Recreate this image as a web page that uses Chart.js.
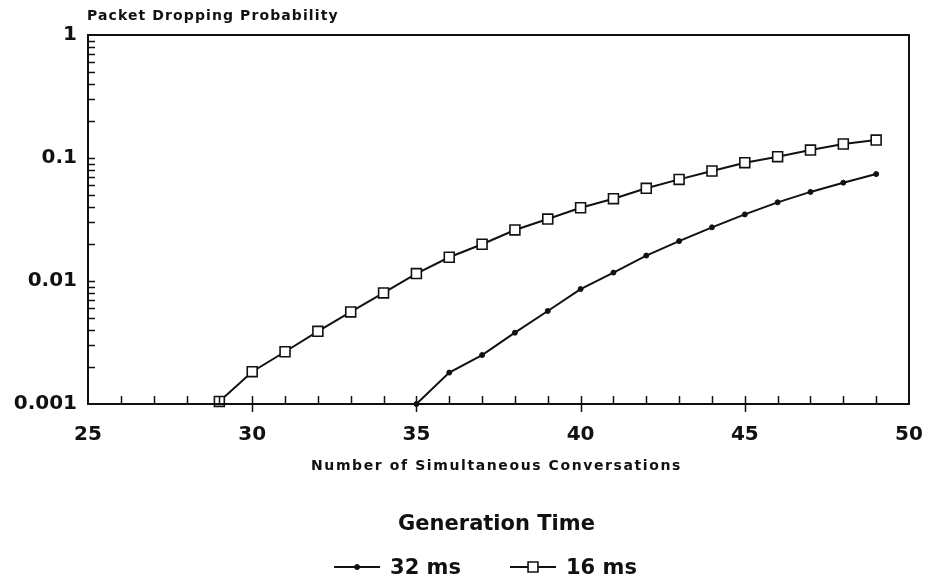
<!DOCTYPE html>
<html lang="en">

<head>
  <meta charset="utf-8" />
  <meta name="viewport" content="width=device-width, initial-scale=1.0">
  <title>Packet Dropping Probability</title>
  <script src="https://cdn.jsdelivr.net/npm/chart.js@4.4.1/dist/chart.umd.min.js"></script>
  <style>
    body { margin: 0; background: #fff; }
    canvas { display: block; }
  </style>
</head>

<body>
  <canvas id="chart" width="927" height="586"></canvas>
  <script>
    // number of simultaneous conversations for each curve
    const conv32 = [35, 36, 37, 38, 39, 40, 41, 42, 43, 44, 45, 46, 47, 48, 49];
    const conv16 = [29, 30, 31, 32, 33, 34, 35, 36, 37, 38, 39, 40, 41, 42, 43, 44, 45, 46, 47, 48, 49];

    // packet dropping probability
    const drop32 = [0.001, 0.0018, 0.0025, 0.0038, 0.0057, 0.0086, 0.0117, 0.0161, 0.0211,
      0.0273, 0.0348, 0.0436, 0.053, 0.063, 0.074];
    const drop16 = [0.00105, 0.00183, 0.00266, 0.0039, 0.0056, 0.008, 0.0115, 0.0156, 0.0199,
      0.026, 0.0319, 0.0394, 0.0467, 0.0567, 0.067, 0.0784, 0.0916, 0.1025, 0.116, 0.13, 0.14];

    const seriesLabels = ['32 ms', '16 ms'];
    const xTicks = [25, 30, 35, 40, 45, 50];
    const yTicks = [0.001, 0.01, 0.1, 1];

    const yTitle = 'Packet Dropping Probability';
    const xTitle = 'Number of Simultaneous Conversations';
    const legendTitle = 'Generation Time';

    const ink = '#111';
    const FONT = '"DejaVu Sans", sans-serif';

    function toPoints(xs, ys) {
      return xs.map((x, i) => ({ x: x, y: ys[i] }));
    }

    // frame, inside tick marks and axis titles
    const framePlugin = {
      id: 'frame',
      afterDatasetsDraw(chart) {
        const ctx = chart.ctx;
        const a = chart.chartArea;
        const xs = chart.scales.x;
        const ys = chart.scales.y;
        ctx.save();
        ctx.strokeStyle = ink;
        ctx.lineWidth = 2;
        ctx.strokeRect(a.left, a.top, a.right - a.left, a.bottom - a.top);

        ctx.lineWidth = 1.5;
        ctx.beginPath();
        for (let v = xs.min + 1; v < xs.max; v++) {
          const px = Math.round(xs.getPixelForValue(v)) + 0.5;
          ctx.moveTo(px, a.bottom - 8);
          ctx.lineTo(px, v % 5 === 0 ? a.bottom + 8 : a.bottom);
        }
        for (let d = ys.min; d < ys.max * 0.999; d *= 10) {
          for (let m = 1; m <= 9; m++) {
            if (m === 1 && d === ys.min) continue;
            const py = Math.round(ys.getPixelForValue(d * m)) + 0.5;
            ctx.moveTo(a.left, py);
            ctx.lineTo(a.left + 7, py);
          }
        }
        ctx.stroke();

        ctx.fillStyle = ink;
        ctx.font = 'bold 14px ' + FONT;
        ctx.textBaseline = 'alphabetic';
        ctx.textAlign = 'left';
        ctx.letterSpacing = '1.1px';
        ctx.fillText(yTitle, a.left - 1, a.top - 15);
        ctx.textAlign = 'center';
        ctx.letterSpacing = '1.6px';
        ctx.fillText(xTitle, (a.left + a.right) / 2 - 2, a.bottom + 66);
        ctx.restore();
      }
    };

    // legend below the chart: title and one row of line samples
    const legendPlugin = {
      id: 'genLegend',
      afterDraw(chart) {
        const ctx = chart.ctx;
        const a = chart.chartArea;
        const mid = (a.left + a.right) / 2;
        ctx.save();
        ctx.fillStyle = ink;
        ctx.strokeStyle = ink;
        ctx.font = 'bold 21px ' + FONT;
        ctx.textAlign = 'center';
        ctx.textBaseline = 'middle';
        ctx.fillText(legendTitle, mid - 2, a.bottom + 121);

        const sample = 46, gap = 10, between = 49;
        const items = chart.data.datasets.map(ds => ({ ds: ds, w: sample + gap + ctx.measureText(ds.label).width }));
        const total = items.reduce((s, it) => s + it.w, 0) + between * (items.length - 1);
        let x = mid - 13 - total / 2;
        const y = a.bottom + 163;
        ctx.textAlign = 'left';
        items.forEach(it => {
          const ds = it.ds;
          ctx.lineWidth = ds.borderWidth;
          ctx.beginPath();
          ctx.moveTo(x, y);
          ctx.lineTo(x + sample, y);
          ctx.stroke();
          const cx = x + sample / 2;
          ctx.lineWidth = ds.pointBorderWidth;
          ctx.fillStyle = ds.pointBackgroundColor;
          ctx.beginPath();
          if (ds.pointStyle === 'rect') {
            const s = ds.pointRadius * Math.SQRT1_2;
            ctx.rect(cx - s, y - s, 2 * s, 2 * s);
          } else {
            ctx.arc(cx, y, ds.pointRadius, 0, Math.PI * 2);
          }
          ctx.fill();
          ctx.stroke();
          ctx.fillStyle = ink;
          ctx.fillText(ds.label, x + sample + gap, y + 2);
          x += it.w + between;
        });
        ctx.restore();
      }
    };

    const data = {
      datasets: [{
        label: seriesLabels[0],
        data: toPoints(conv32, drop32),
        borderColor: ink,
        borderWidth: 2,
        pointStyle: 'circle',
        pointRadius: 2.5,
        pointBackgroundColor: ink,
        pointBorderColor: ink,
        pointBorderWidth: 1,
        tension: 0,
        clip: false
      }, {
        label: seriesLabels[1],
        data: toPoints(conv16, drop16),
        borderColor: ink,
        borderWidth: 2,
        pointStyle: 'rect',
        pointRadius: 7,
        pointBackgroundColor: '#fff',
        pointBorderColor: ink,
        pointBorderWidth: 1.6,
        tension: 0,
        clip: false
      }]
    };

    const config = {
      type: 'line',
      data: data,
      options: {
        responsive: false,
        animation: false,
        events: [],
        layout: { padding: { left: 0, top: 35, right: 18, bottom: 182 - 68 } },
        plugins: {
          legend: { display: false },
          tooltip: { enabled: false }
        },
        scales: {
          x: {
            type: 'linear',
            min: 25,
            max: 50,
            afterBuildTicks: s => { s.ticks = xTicks.map(v => ({ value: v })); },
            afterFit: s => { s.height = 68; s.paddingLeft = 0; s.paddingRight = 0; },
            grid: { display: false, drawTicks: false },
            border: { display: false },
            ticks: {
              color: ink,
              padding: 19,
              font: { family: FONT, size: 20, weight: 'bold' }
            }
          },
          y: {
            type: 'logarithmic',
            min: 0.001,
            max: 1,
            afterBuildTicks: s => { s.ticks = yTicks.map(v => ({ value: v })); },
            afterFit: s => { s.width = 88; s.paddingTop = 0; s.paddingBottom = 0; },
            grid: { display: false, drawTicks: false },
            border: { display: false },
            ticks: {
              color: ink,
              padding: 11,
              font: { family: FONT, size: 20, weight: 'bold' },
              callback: v => String(v)
            }
          }
        }
      },
      plugins: [framePlugin, legendPlugin]
    };

    new Chart(document.getElementById('chart'), config);
  </script>
</body>

</html>
